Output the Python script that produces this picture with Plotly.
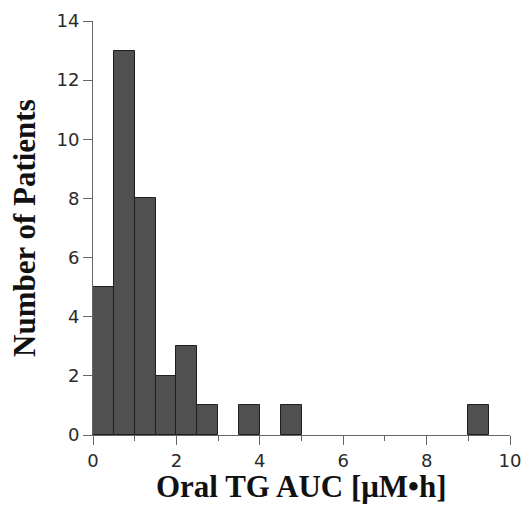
import plotly.graph_objects as go

bin_start = [0.0, 0.5, 1.0, 1.5, 2.0, 2.5, 3.5, 4.5, 9.0]
counts = [5, 13, 8, 2, 3, 1, 1, 1, 1]
bin_width = 0.5

x_ticks = [0, 2, 4, 6, 8, 10]
x_minor = [1, 3, 5, 7, 9]
y_ticks = [0, 2, 4, 6, 8, 10, 12, 14]

x_title = "<b>Oral TG AUC [μM•h]</b>"
y_title = "<b>Number of Patients</b>"

centers = [b + bin_width / 2 for b in bin_start]

fig = go.Figure(go.Bar(
    x=centers, y=counts, width=bin_width,
    marker=dict(color="#505050", line=dict(color="#1e1e1e", width=1)),
))

axis_font = dict(family="DejaVu Sans, Arial", size=18, color="#2a2a2a")
title_font = dict(family="Liberation Serif, Times New Roman", size=31, color="#111111")

fig.update_layout(
    width=525, height=506,
    margin=dict(l=93, r=15, t=21, b=71, autoexpand=False),
    plot_bgcolor="white", paper_bgcolor="white",
    showlegend=False, bargap=0,
    xaxis=dict(
        range=[0, 10], tickvals=x_ticks, ticks="outside", ticklen=9, tickwidth=1,
        tickcolor="#666666", showline=True, linecolor="#666666", linewidth=1,
        showgrid=False, zeroline=False, tickfont=axis_font, automargin=False,
        minor=dict(tickvals=x_minor, ticks="outside", ticklen=5, tickcolor="#666666"),
    ),
    yaxis=dict(
        range=[0, 14], tickvals=y_ticks, ticks="outside", ticklen=9, tickwidth=1,
        tickcolor="#666666", showline=True, linecolor="#666666", linewidth=1,
        showgrid=False, zeroline=False, tickfont=axis_font, automargin=False,
    ),
    annotations=[
        dict(text=x_title, xref="paper", yref="paper", x=0.5, y=0, yshift=-51,
             xanchor="center", yanchor="middle", showarrow=False, font=title_font),
        dict(text=y_title, xref="paper", yref="paper", x=0, y=0.5, xshift=-69,
             xanchor="center", yanchor="middle", textangle=-90, showarrow=False,
             font=title_font),
    ],
)

fig.write_html("out.html")
